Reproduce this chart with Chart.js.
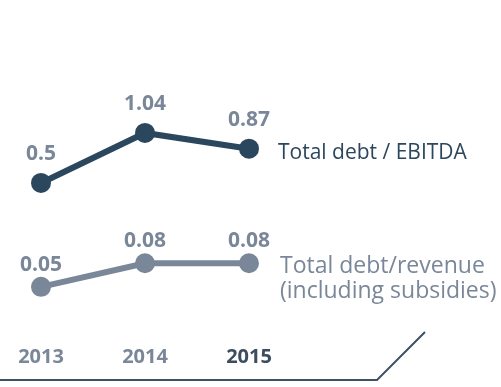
<!DOCTYPE html>
<html>
<head>
<meta charset="utf-8">
<script src="https://cdn.jsdelivr.net/npm/chart.js@4/dist/chart.umd.min.js"></script>
<style>
  html, body { margin: 0; padding: 0; background: #ffffff; }
  #wrap { width: 501px; height: 387px; position: relative; }
</style>
</head>
<body>
<div id="wrap"><canvas id="chart"></canvas></div>
<script>
// ------------------------------
// Data
// ------------------------------
const years = ["2013", "2014", "2015"];
const debtEbitda = [0.5, 1.04, 0.87];
const debtRevenue = [0.05, 0.08, 0.08];
const debtEbitdaLabels = ["0.5", "1.04", "0.87"];
const debtRevenueLabels = ["0.05", "0.08", "0.08"];
const seriesNames = [["Total debt / EBITDA"], ["Total debt/revenue", "(including subsidies)"]];

const navy = "#2b475d";
const grey = "#7a8799";

// ------------------------------
// Value labels, series names, baseline
// ------------------------------
const decorations = {
    id: "decorations",
    afterDatasetsDraw(chart) {
        const ctx = chart.ctx;
        const texts = [debtEbitdaLabels, debtRevenueLabels];
        const offsets = [29, 22];
        ctx.save();
        ctx.textAlign = "center";
        ctx.textBaseline = "middle";
        ctx.font = "bold 21px 'Open Sans', sans-serif";
        ctx.fillStyle = grey;
        chart.data.datasets.forEach((ds, i) => {
            chart.getDatasetMeta(i).data.forEach((pt, j) => {
                ctx.fillText(texts[i][j], pt.x, pt.y - offsets[i]);
            });
        });

        // series names to the right of the last point
        ctx.textAlign = "left";
        const last0 = chart.getDatasetMeta(0).data[2];
        ctx.font = "21px 'Open Sans', sans-serif";
        ctx.fillStyle = navy;
        ctx.fillText(seriesNames[0][0], last0.x + 29, 153);

        const last1 = chart.getDatasetMeta(1).data[2];
        ctx.font = "23px 'Open Sans', sans-serif";
        ctx.fillStyle = grey;
        seriesNames[1].forEach((line, k) => {
            ctx.fillText(line, last1.x + 31, 266 + k * 25);
        });

        // baseline with slanted end
        ctx.strokeStyle = "#3d5166";
        ctx.lineWidth = 2;
        ctx.beginPath();
        ctx.moveTo(0, 380);
        ctx.lineTo(377, 380);
        ctx.lineTo(425, 332);
        ctx.stroke();
        ctx.restore();
    }
};

new Chart(document.getElementById("chart"), {
    type: "line",
    data: {
        labels: years,
        datasets: [{
            data: debtEbitda,
            yAxisID: "y",
            borderColor: navy,
            backgroundColor: navy,
            borderWidth: 6,
            pointRadius: 7,
            pointHoverRadius: 7,
            tension: 0
        }, {
            data: debtRevenue,
            yAxisID: "y2",
            borderColor: grey,
            backgroundColor: grey,
            borderWidth: 6,
            pointRadius: 7,
            pointHoverRadius: 7,
            tension: 0
        }]
    },
    options: {
        responsive: true,
        maintainAspectRatio: false,
        animation: false,
        layout: { padding: { left: 41, right: 252, top: 8, bottom: 0 } },
        plugins: {
            legend: { display: false },
            tooltip: { enabled: false }
        },
        scales: {
            x: {
                offset: false,
                grid: { display: false, drawTicks: false },
                border: { display: false },
                afterFit(scale) { scale.height = 42; },
                ticks: {
                    padding: 0,
                    maxRotation: 0,
                    font: { family: "'Open Sans', sans-serif", size: 20, weight: "bold" },
                    color: (c) => c.index === 2 ? "#3d4d60" : grey
                }
            },
            y: { display: false, min: -1.250, max: 2.335 },
            y2: { display: false, min: -0.0238, max: 0.3975 }
        }
    },
    plugins: [decorations]
});
</script>
</body>
</html>
